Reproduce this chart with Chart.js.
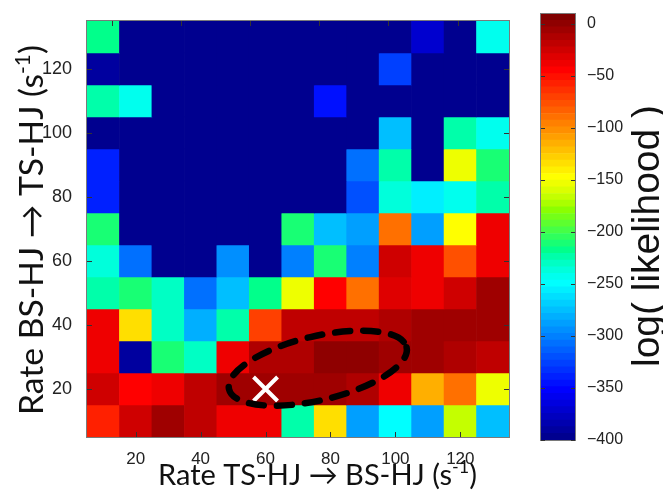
<!DOCTYPE html>
<html><head><meta charset="utf-8">
<script src="https://cdn.jsdelivr.net/npm/chart.js@4.4.1/dist/chart.umd.min.js"></script>
<style>
html,body{margin:0;padding:0;background:#fff;}
#wrap{position:relative;width:663px;height:502px;overflow:hidden;background:#fff;}
.box{position:absolute;top:0;}
</style></head><body>
<div id="wrap">
  <div class="box" style="left:0;width:530px;height:502px"><canvas id="main" width="530" height="502"></canvas></div>
  <div class="box" style="left:530px;width:133px;height:502px"><canvas id="cb" width="133" height="502"></canvas></div>
</div>
<script>
// ---------- data ----------
const xCenters = [10,20,30,40,50,60,70,80,90,100,110,120,130];
const yCenters = [130,120,110,100,90,80,70,60,50,40,30,20,10];
// log-likelihood per cell, rows top (130) to bottom (10), columns 10..130
const logLik = [
  [-218,-400,-400,-400,-400,-400,-400,-400,-400,-400,-374,-400,-246],
  [-388,-400,-400,-400,-400,-400,-400,-400,-400,-329,-400,-400,-400],
  [-224,-246,-400,-400,-400,-400,-400,-343,-400,-400,-400,-400,-400],
  [-400,-400,-400,-400,-400,-400,-400,-400,-400,-278,-400,-221,-246],
  [-336,-400,-400,-400,-400,-400,-400,-400,-304,-227,-400,-156,-211],
  [-336,-400,-400,-400,-400,-400,-400,-400,-317,-235,-256,-246,-221],
  [-214,-400,-400,-400,-400,-400,-214,-272,-291, -92,-291,-144, -41],
  [-235,-304,-400,-400,-297,-400,-300,-214,-300, -27, -41, -74, -35],
  [-221,-214,-231,-310,-278,-218,-156, -45, -92, -33, -41, -27,  -9],
  [ -41,-131,-231,-283,-221, -70, -21, -19, -16, -12,  -9,  -6,  -4],
  [ -41,-393,-208,-231, -41, -13, -13,  -1,  -1,  -5,  -9, -13, -16],
  [ -27, -47, -41, -16,  -3,  -3,  -3,  -6, -13, -41,-118, -92,-156],
  [ -60, -27,  -3, -16, -35, -35,-221,-135,-285,-250,-285,-166,-272]
];
const xTicks = [20,40,60,80,100,120];
const yTicks = [20,40,60,80,100,120];
const topTicks = [20,40,60,80,100,120];
const topAxisRange = [12.7, 134.9];
const axisRange = [5, 135];
const cbTicks = [0,-50,-100,-150,-200,-250,-300,-350,-400];
const colorLimits = [-400, 10];
const bestFit = [{x:60, y:20}];
const confRegion = {cx:76.1, cy:26.5, a:28.1, b:10, angle:13.3};
const xTitle = {base:'Rate TS-HJ \u2192 BS-HJ (s', sup:'-1', tail:')'};
const yTitle = {base:'Rate BS-HJ \u2192 TS-HJ (s', sup:'-1', tail:')'};
const cbTitle = 'log( likelihood )';

// ---------- colormap (MATLAB jet, 64 levels, slightly more saturated like the print) ----------
function jetMap(m){
  const q = Math.ceil(m/4), u = [];
  for(let i=1;i<=q;i++) u.push(i/q);
  for(let i=1;i<q;i++) u.push(1);
  for(let i=q;i>=1;i--) u.push(i/q);
  const g0 = Math.ceil(q/2) - (m%4===1?1:0);
  const J = Array.from({length:m},()=>[0,0,0]);
  u.forEach((val,k)=>{
    const g = g0+k+1, r = g+q, b = g-q;
    if(r>=1&&r<=m) J[r-1][0]=val;
    if(g>=1&&g<=m) J[g-1][1]=val;
    if(b>=1&&b<=m) J[b-1][2]=val;
  });
  return J;
}
function saturate(c, k){
  const mx = Math.max(...c), mn = Math.min(...c);
  if (mx === 0 || mx === mn) return c;
  const s = (mx-mn)/mx, s2 = Math.min(1, s*k);
  const mn2 = mx*(1-s2);
  return c.map(v => mn2 + (v-mn)/(mx-mn)*(mx-mn2));
}
const JET = jetMap(64).map(c=>saturate(c,1.45));
function rgb(c){return `rgb(${Math.round(c[0]*255)},${Math.round(c[1]*255)},${Math.round(c[2]*255)})`;}
function colorFor(v){
  const [lo,hi] = colorLimits;
  let i = Math.floor((v-lo)/(hi-lo)*JET.length);
  i = Math.max(0, Math.min(JET.length-1, i));
  return rgb(JET[i]);
}

const TICK_FONT = '"Liberation Sans", Arial, Helvetica, sans-serif';
const TITLE_FONT = 'Lato, "Open Sans", sans-serif';

function drawLabel(ctx, lab, family, target, x, y, rotate){
  const meas = s => {
    ctx.font = `${s}px ${family}`; const w1 = ctx.measureText(lab.base).width;
    ctx.font = `${s*0.62}px ${family}`; const w2 = ctx.measureText(lab.sup).width;
    ctx.font = `${s}px ${family}`; const w3 = ctx.measureText(lab.tail).width;
    return [w1,w2,w3];
  };
  const m0 = meas(100);
  const size = 100*target/(m0[0]+m0[1]+m0[2]);
  const [w1,w2] = meas(size);
  ctx.save();
  ctx.translate(x,y); if(rotate) ctx.rotate(-Math.PI/2);
  ctx.fillStyle = '#111'; ctx.textBaseline = 'alphabetic'; ctx.textAlign='left';
  ctx.font = `${size}px ${family}`; ctx.fillText(lab.base, 0, 0);
  ctx.font = `${size*0.62}px ${family}`; ctx.fillText(lab.sup, w1, -size*0.40);
  ctx.font = `${size}px ${family}`; ctx.fillText(lab.tail, w1+w2, 0);
  ctx.restore();
}

// ---------- main heatmap ----------
const hx = (xCenters[1]-xCenters[0])/2, hy = (yCenters[0]-yCenters[1])/2;
const cellSets = yCenters.map((yc,r)=>({
  type:'bar', order:2, grouped:false, barPercentage:1, categoryPercentage:1,
  borderWidth:0, borderSkipped:false,
  data: xCenters.map(xc=>({x:xc, y:[yc-hy, yc+hy]})),
  backgroundColor: logLik[r].map(colorFor)
}));
const markerSet = {
  type:'scatter', order:0, data: bestFit,
  pointStyle:'crossRot', pointRadius:17, pointBorderWidth:4,
  pointBorderColor:'#ffffff', pointBackgroundColor:'#ffffff'
};

const mainDecor = {
  id:'mainDecor',
  afterDatasetsDraw(chart){
    const {ctx, chartArea:a, scales:{x,y,x2}} = chart;
    // confidence ellipse
    const cx = x.getPixelForValue(confRegion.cx), cy = y.getPixelForValue(confRegion.cy);
    const ra = Math.abs(x.getPixelForValue(confRegion.cx+confRegion.a)-cx);
    const rb = Math.abs(y.getPixelForValue(confRegion.cy+confRegion.b)-cy);
    ctx.save();
    ctx.beginPath();
    ctx.ellipse(cx, cy, ra, rb, -confRegion.angle*Math.PI/180, 0, Math.PI*2);
    ctx.setLineDash([15,13]); ctx.lineDashOffset = 4;
    ctx.lineCap='round'; ctx.lineWidth=6.5; ctx.strokeStyle='#000'; ctx.stroke();
    ctx.restore();
    // frame + inward ticks
    ctx.save();
    ctx.strokeStyle='#7a7a7a'; ctx.lineWidth=1;
    ctx.strokeRect(Math.round(a.left)-0.5, Math.round(a.top)-0.5, Math.round(a.right-a.left)+1, Math.round(a.bottom-a.top)+1);
    ctx.strokeStyle='#333'; ctx.beginPath();
    const L=5;
    x.ticks.forEach(t=>{const p=Math.round(x.getPixelForValue(t.value))+0.5; ctx.moveTo(p,a.bottom); ctx.lineTo(p,a.bottom-L);});
    x2.ticks.forEach(t=>{const p=Math.round(x2.getPixelForValue(t.value))+0.5; ctx.moveTo(p,a.top); ctx.lineTo(p,a.top+L);});
    y.ticks.forEach(t=>{const p=Math.round(y.getPixelForValue(t.value))+0.5; ctx.moveTo(a.left,p); ctx.lineTo(a.left+L,p); ctx.moveTo(a.right,p); ctx.lineTo(a.right-L,p);});
    ctx.stroke();
    ctx.restore();
  },
  afterDraw(chart){
    const ctx = chart.ctx;
    drawLabel(ctx, xTitle, TITLE_FONT, 319, 158, 485, false);
    drawLabel(ctx, yTitle, TITLE_FONT, 370, 43, 415, true);
  }
};

new Chart(document.getElementById('main'), {
  type:'bar',
  data:{datasets:[markerSet, ...cellSets]},
  options:{
    responsive:false, animation:false, devicePixelRatio:1,
    layout:{padding:{top:9, right:15, left:0, bottom:0}},
    plugins:{legend:{display:false}, tooltip:{enabled:false}},
    scales:{
      x:{type:'linear', position:'bottom', min:axisRange[0], max:axisRange[1], bounds:'data', offset:false,
         grid:{display:false, offset:false}, border:{display:false},
         afterBuildTicks:s=>{s.ticks = xTicks.map(v=>({value:v}));},
         ticks:{font:{family:TICK_FONT, size:17}, color:'#222', padding:4, maxRotation:0, autoSkip:false},
         afterFit:s=>{s.height=65;}},
      x2:{type:'linear', position:'top', display:false, min:topAxisRange[0], max:topAxisRange[1], bounds:'data', offset:false,
         grid:{display:false, offset:false},
         afterBuildTicks:s=>{s.ticks = topTicks.map(v=>({value:v}));}},
      y:{type:'linear', position:'left', min:axisRange[0], max:axisRange[1], bounds:'data', beginAtZero:false,
         grid:{display:false}, border:{display:false},
         afterBuildTicks:s=>{s.ticks = yTicks.map(v=>({value:v}));},
         ticks:{font:{family:TICK_FONT, size:18}, color:'#222', padding:7, autoSkip:false},
         afterFit:s=>{s.width=87;}}
    }
  },
  plugins:[mainDecor]
});

// ---------- colorbar ----------
const nLev = JET.length;
const step = (colorLimits[1]-colorLimits[0])/nLev;
const cbSets = JET.map((c,i)=>({
  type:'bar', grouped:false, barPercentage:1, categoryPercentage:1, borderWidth:0, borderSkipped:false,
  data:[[colorLimits[0]+i*step, colorLimits[0]+(i+1)*step]],
  backgroundColor: rgb(c)
}));
const cbDecor = {
  id:'cbDecor',
  afterDatasetsDraw(chart){
    const {ctx, chartArea:a, scales:{y}} = chart;
    ctx.save();
    ctx.strokeStyle='#7a7a7a'; ctx.lineWidth=1;
    ctx.strokeRect(Math.round(a.left)-0.5, Math.round(a.top)-0.5, Math.round(a.right-a.left)+1, Math.round(a.bottom-a.top)+1);
    ctx.strokeStyle='#333'; ctx.beginPath();
    y.ticks.forEach(t=>{const p=Math.round(y.getPixelForValue(t.value))+0.5; ctx.moveTo(a.left,p); ctx.lineTo(a.left+4,p); ctx.moveTo(a.right,p); ctx.lineTo(a.right-4,p);});
    ctx.stroke();
    ctx.restore();
  },
  afterDraw(chart){
    const ctx = chart.ctx;
    ctx.save();
    const family = TICK_FONT;
    ctx.font = `100px ${family}`;
    const size = 100*262/ctx.measureText(cbTitle).width;
    ctx.translate(129, 367); ctx.rotate(-Math.PI/2);
    ctx.font = `${size}px ${family}`; ctx.fillStyle='#111'; ctx.textBaseline='alphabetic';
    ctx.fillText(cbTitle, 0, 0);
    ctx.restore();
  }
};
new Chart(document.getElementById('cb'), {
  type:'bar',
  data:{labels:['c'], datasets:cbSets},
  options:{
    responsive:false, animation:false, devicePixelRatio:1,
    layout:{padding:{top:12, left:11, right:0, bottom:62}},
    plugins:{legend:{display:false}, tooltip:{enabled:false}},
    scales:{
      x:{display:false},
      y:{type:'linear', position:'right', min:colorLimits[0], max:colorLimits[1], bounds:'data', beginAtZero:false,
         grid:{display:false}, border:{display:false},
         afterBuildTicks:s=>{s.ticks = cbTicks.map(v=>({value:v}));},
         ticks:{font:{family:TICK_FONT, size:16}, color:'#222', padding:4, autoSkip:false,
                callback:v=> v<0 ? '\u2212'+Math.abs(v) : String(v)},
         afterFit:s=>{s.width=88;}}
    }
  },
  plugins:[cbDecor]
});
</script>
</body></html>
